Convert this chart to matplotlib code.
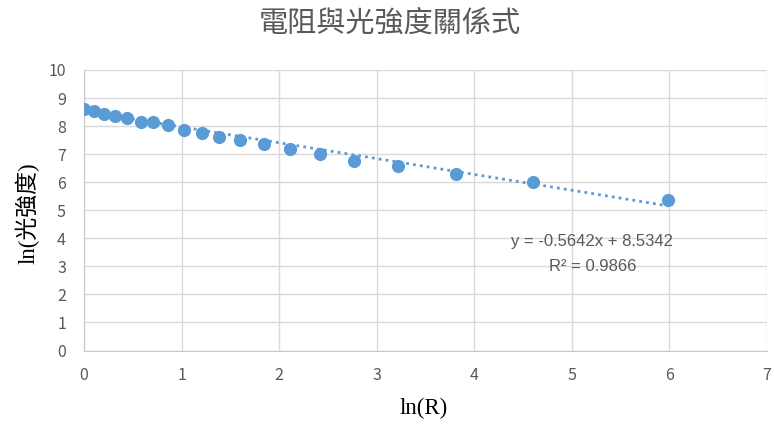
import matplotlib
matplotlib.use("Agg")
import matplotlib.pyplot as plt
import numpy as np

plt.rcParams['font.family'] = ['Noto Sans CJK TC', 'DejaVu Sans']

ln_R = [0.00, 0.10, 0.20, 0.32, 0.44, 0.58, 0.71, 0.86, 1.02, 1.21, 1.38,
        1.60, 1.84, 2.11, 2.42, 2.77, 3.22, 3.81, 4.60, 5.99]
ln_I = [8.61, 8.54, 8.43, 8.37, 8.30, 8.13, 8.14, 8.03, 7.86, 7.76, 7.62,
        7.52, 7.36, 7.18, 7.01, 6.77, 6.56, 6.29, 5.99, 5.36]
slope = -0.5642
intercept = 8.5342
r2 = 0.9866
x_ticks = [0, 1, 2, 3, 4, 5, 6, 7]
y_ticks = [0, 1, 2, 3, 4, 5, 6, 7, 8, 9, 10]

blue = '#5B9BD5'
grey_text = '#595959'
grid_c = '#D9D9D9'

fig = plt.figure(figsize=(7.74, 4.24), dpi=100)
ax = fig.add_axes([84/774, 1-350.5/424, (767-84)/774, (350.5-70)/424])

ax.set_xlim(0, 7)
ax.set_ylim(0, 10)
ax.set_xticks(x_ticks)
ax.set_yticks(y_ticks)
ax.grid(True, color=grid_c, linewidth=1)
ax.set_axisbelow(True)
for s in ['top', 'right']:
    ax.spines[s].set_visible(False)
for s in ['left', 'bottom']:
    ax.spines[s].set_color('#C8C8C8')
ax.tick_params(length=0, labelsize=11.5, labelcolor=grey_text)
ax.tick_params(axis='x', pad=12)
ax.tick_params(axis='y', pad=13)

xs = np.array([min(ln_R), max(ln_R)])
ax.plot(xs, slope*xs + intercept, linestyle=(0, (1, 1.5)), color=blue, linewidth=2, zorder=2)
ax.scatter(ln_R, ln_I, s=90, color=blue, zorder=3, linewidths=0)

ax.text(5.21, 3.9, f"y = {slope}x + {intercept}", ha='center', va='center',
        fontsize=12, color=grey_text, family=['Liberation Sans', 'DejaVu Sans'])
ax.text(5.21, 3.0, f"R² = {r2}", ha='center', va='center',
        fontsize=12, color=grey_text, family=['Liberation Sans', 'DejaVu Sans'])

fig.text(390/774, 1-24/424, "電阻與光強度關係式", ha='center', va='center',
         fontsize=21, color=grey_text, fontweight='light')
fig.text(424/774, 1-408/424, "ln(R)", ha='center', va='center', fontsize=16.5,
         color='black', family=['Liberation Serif', 'Noto Sans CJK TC'])
fig.text(27/774, 1-213/424, "ln(光強度)", ha='center', va='center', fontsize=16.5,
         rotation=90, color='black', fontweight='light',
         family=['Liberation Serif', 'Noto Sans CJK TC'])

fig.savefig("out.png", dpi=100)
